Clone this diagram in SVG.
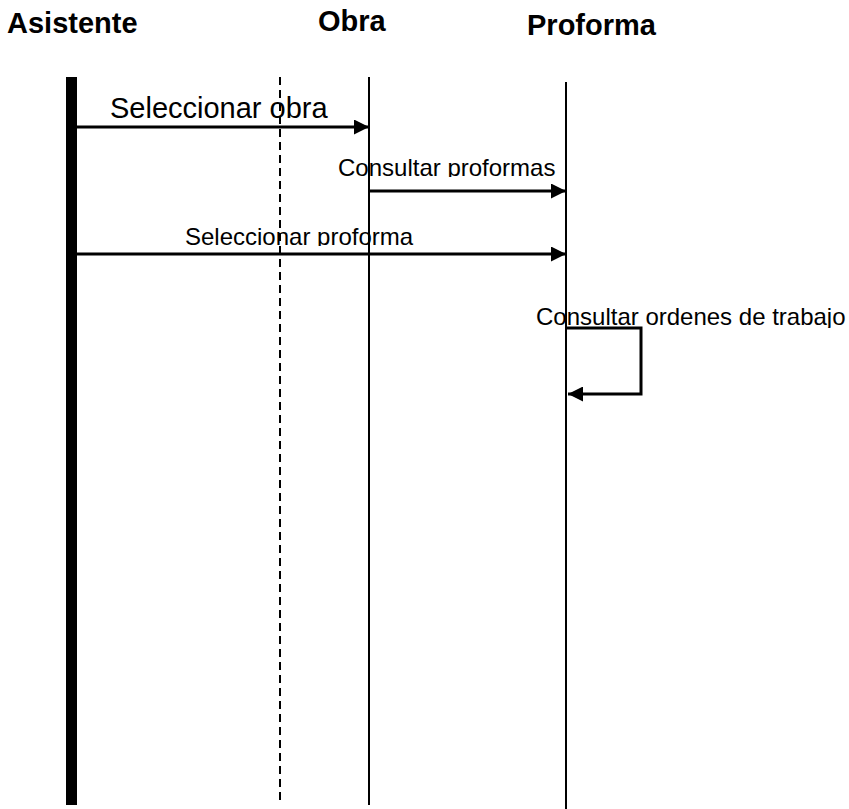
<svg xmlns="http://www.w3.org/2000/svg" width="849" height="809" viewBox="0 0 849 809">
<style>
.hdr{font-family:"Liberation Sans",Arial,sans-serif;font-weight:bold;font-size:29px;fill:#000}
.lbl{font-family:"Liberation Sans",Arial,sans-serif;font-size:24px;fill:#000}
.life{stroke:#000;stroke-width:2;fill:none}
.msg{stroke:#000;stroke-width:3;fill:none}
</style>
<defs>
<marker id="ah" viewBox="0 0 15 15" refX="15" refY="7.5" markerWidth="15" markerHeight="15" markerUnits="userSpaceOnUse" orient="auto">
<path d="M0,0 L15,7.5 L0,15 Z" fill="#000"/>
</marker>
<clipPath id="c1"><rect x="300" y="140" width="300" height="37"/></clipPath>
<clipPath id="c2"><rect x="150" y="210" width="300" height="36"/></clipPath>
<clipPath id="c3"><rect x="520" y="290" width="329" height="38"/></clipPath>
</defs>
<g id="asistente">
<text class="hdr" x="7" y="33">Asistente</text>
<rect x="66" y="77" width="11" height="728" fill="#000"/>
</g>
<g id="boundary">
<line x1="280" y1="77" x2="280" y2="805" stroke="#000" stroke-width="2" stroke-dasharray="8,5"/>
</g>
<g id="obra">
<text class="hdr" x="318" y="31">Obra</text>
<line class="life" x1="369" y1="77" x2="369" y2="805"/>
</g>
<g id="proforma">
<text class="hdr" x="527" y="35">Proforma</text>
<line class="life" x1="566" y1="82" x2="566" y2="809"/>
</g>
<g id="connectors">
<line class="msg" x1="77" y1="127" x2="369" y2="127" marker-end="url(#ah)"/>
<text class="lbl" x="110" y="118" style="font-size:29px">Seleccionar obra</text>
<line class="msg" x1="369" y1="191" x2="566" y2="191" marker-end="url(#ah)"/>
<text class="lbl" x="338" y="176" clip-path="url(#c1)">Consultar proformas</text>
<line class="msg" x1="77" y1="254" x2="566" y2="254" marker-end="url(#ah)"/>
<text class="lbl" x="185" y="245" clip-path="url(#c2)">Seleccionar proforma</text>
<polyline class="msg" points="566,328 641,328 641,394 568,394" marker-end="url(#ah)"/>
<text class="lbl" x="536" y="325" clip-path="url(#c3)">Consultar ordenes de trabajo</text>
</g>
</svg>
